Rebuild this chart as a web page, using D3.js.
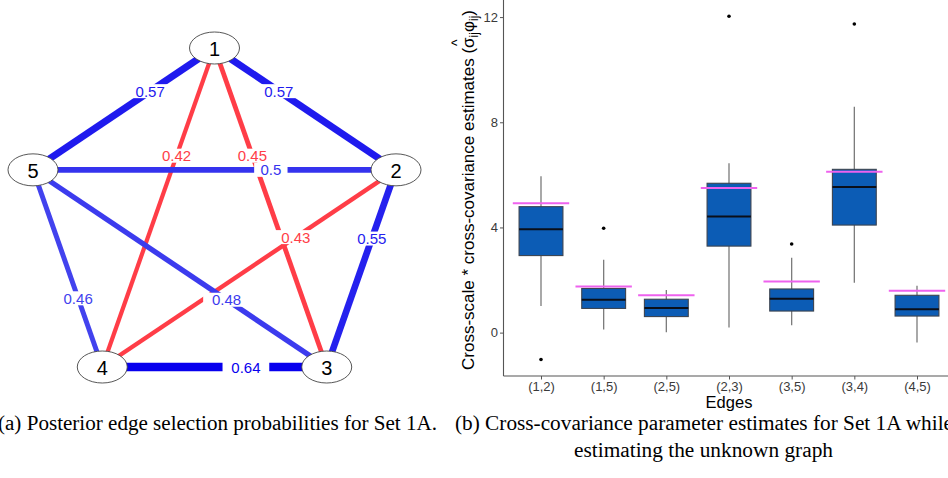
<!DOCTYPE html>
<html>
<head>
<meta charset="utf-8">
<script src="https://cdn.jsdelivr.net/npm/d3@7"></script>
<style>
  html, body { margin: 0; padding: 0; background: #fff; }
  svg { display: block; }
</style>
</head>
<body>
<svg id="fig" width="948" height="478"></svg>
<script>
// ---------- (a) posterior edge selection probabilities ----------
const nodeIds = ["1", "2", "3", "4", "5"];
// circular layout coordinates (unit circle, node 1 on top)
const nodeLayoutX = [0, 0.951, 0.588, -0.588, -0.951];
const nodeLayoutY = [1, 0.309, -0.809, -0.809, 0.309];

const edgeFrom = ["1", "1", "1", "1", "2", "2", "2", "4", "3", "3"];
const edgeTo   = ["5", "2", "4", "3", "5", "4", "3", "5", "5", "4"];
const edgeProb = [0.57, 0.57, 0.42, 0.45, 0.5, 0.43, 0.55, 0.46, 0.48, 0.64];
const edgeInTrueGraph = [true, true, false, false, true, false, true, true, true, true];

// ---------- (b) cross-covariance estimates per edge ----------
const edgeLabels  = ["(1,2)", "(1,5)", "(2,5)", "(2,3)", "(3,5)", "(3,4)", "(4,5)"];
const whiskerLow  = [1.01, 0.12, 0.01, 0.19, 0.28, 1.90, -0.38];
const quart1      = [2.93, 0.92, 0.61, 3.29, 0.82, 4.09, 0.63];
const medians     = [3.93, 1.25, 0.94, 4.42, 1.29, 5.54, 0.89];
const quart3      = [4.79, 1.68, 1.27, 5.68, 1.66, 6.21, 1.42];
const whiskerHigh = [5.95, 2.77, 1.62, 6.44, 2.85, 8.59, 1.78];
const trueValues  = [4.92, 1.75, 1.42, 5.50, 1.94, 6.12, 1.59];
const outliers    = [[-1.02], [3.97], [], [12.03], [3.37], [11.74], []];
const yTicks      = [0, 4, 8, 12];

const captionA  = "(a) Posterior edge selection probabilities for Set 1A.";
const captionB1 = "(b) Cross-covariance parameter estimates for Set 1A while";
const captionB2 = "estimating the unknown graph";

const svg = d3.select("#fig");
svg.append("rect").attr("width", 948).attr("height", 478).attr("fill", "#fff");

// =============== network panel ===============
const sans = "'Liberation Sans', Arial, sans-serif";
const gx = d3.scaleLinear().domain([-0.951, 0.951]).range([33, 396]);
const gy = d3.scaleLinear().domain([-0.809, 1]).range([367, 48]);
const rx = 25, ry = 16;

const nodes = nodeIds.map((id, i) => ({ id, x: gx(nodeLayoutX[i]), y: gy(nodeLayoutY[i]) }));
const nodeById = new Map(nodes.map(n => [n.id, n]));

const edges = edgeFrom.map((f, i) => ({
  a: nodeById.get(f), b: nodeById.get(edgeTo[i]),
  p: edgeProb[i], inTrue: edgeInTrueGraph[i]
}));

const widthScale = d3.scaleLinear().domain([0.5, 0.64]).range([5.7, 8.3]);
const blueScale = d3.scaleLinear().domain([0.46, 0.64]).range(["#4242ee", "#0800ee"]);
const redColor = "#ff3d47";
const edgeColor = e => e.inTrue ? blueScale(e.p) : redColor;

// distance from an ellipse centre to its border along a unit direction
function borderDist(ux, uy) {
  return 1 / Math.sqrt((ux / rx) ** 2 + (uy / ry) ** 2);
}

const gEdges = svg.append("g");
const drawOrder = edges.slice().sort((m, n) => m.p - n.p);
gEdges.selectAll("line").data(drawOrder).join("line")
  .attr("x1", e => e.a.x).attr("y1", e => e.a.y)
  .attr("x2", e => e.b.x).attr("y2", e => e.b.y)
  .attr("stroke", edgeColor)
  .attr("stroke-width", e => widthScale(e.p));

// edge labels with white background, placed about a third of the way from the first node
const labelPos = 0.32;
const gLabelBg = svg.append("g");
const gLabels = svg.append("g");
edges.forEach(e => {
  const dx = e.b.x - e.a.x, dy = e.b.y - e.a.y;
  const len = Math.hypot(dx, dy), ux = dx / len, uy = dy / len;
  const d0 = borderDist(ux, uy);
  const d1 = len - borderDist(ux, uy);
  const t = d0 + (d1 - d0) * labelPos;
  const cx = e.a.x + ux * t, cy = e.a.y + uy * t;
  const txt = gLabels.append("text")
    .attr("x", cx).attr("y", cy)
    .attr("text-anchor", "middle").attr("dominant-baseline", "central")
    .attr("font-family", sans).attr("font-size", 15)
    .attr("fill", edgeColor(e))
    .text(String(e.p));
  const w = txt.node().getComputedTextLength();
  gLabelBg.append("rect")
    .attr("x", cx - w * 0.8).attr("y", cy - 7)
    .attr("width", w * 1.6).attr("height", 14)
    .attr("fill", "#fff");
});

const gNodes = svg.append("g");
gNodes.selectAll("ellipse").data(nodes).join("ellipse")
  .attr("cx", d => d.x).attr("cy", d => d.y)
  .attr("rx", rx).attr("ry", ry)
  .attr("fill", "#fff").attr("stroke", "#444").attr("stroke-width", 0.9);
gNodes.selectAll("text").data(nodes).join("text")
  .attr("x", d => d.x).attr("y", d => d.y + 1)
  .attr("text-anchor", "middle").attr("dominant-baseline", "central")
  .attr("font-family", sans).attr("font-size", 20).attr("fill", "#000")
  .text(d => d.id);

// =============== box plot panel ===============
const left = 503.5, bottom = 376, right = 954;
const y = d3.scaleLinear().domain([-1.65, 12.65]).range([bottom, 0]);
const x = d3.scalePoint().domain(edgeLabels).range([541, 917]);
const step = x.step();
const boxW = step * 0.7, refW = step * 0.9;

const stats = edgeLabels.map((k, i) => ({
  k, lo: whiskerLow[i], q1: quart1[i], med: medians[i], q3: quart3[i],
  hi: whiskerHigh[i], truth: trueValues[i], out: outliers[i]
}));

const gb = svg.append("g");
// whiskers
gb.selectAll("line.wh").data(stats).join("line").attr("class", "wh")
  .attr("x1", d => x(d.k)).attr("x2", d => x(d.k))
  .attr("y1", d => y(d.hi)).attr("y2", d => y(d.lo))
  .attr("stroke", "#7a7a7a").attr("stroke-width", 1.3);
// boxes
gb.selectAll("rect.box").data(stats).join("rect").attr("class", "box")
  .attr("x", d => x(d.k) - boxW / 2).attr("width", boxW)
  .attr("y", d => y(d.q3)).attr("height", d => y(d.q1) - y(d.q3))
  .attr("fill", "#0c5cb5").attr("stroke", "#3c4450").attr("stroke-width", 1.1);
// medians
gb.selectAll("line.med").data(stats).join("line").attr("class", "med")
  .attr("x1", d => x(d.k) - boxW / 2).attr("x2", d => x(d.k) + boxW / 2)
  .attr("y1", d => y(d.med)).attr("y2", d => y(d.med))
  .attr("stroke", "#0a0f1a").attr("stroke-width", 2);
// outliers
gb.selectAll("g.out").data(stats).join("g").attr("class", "out")
  .selectAll("circle").data(d => d.out.map(v => ({ k: d.k, v }))).join("circle")
  .attr("cx", d => x(d.k)).attr("cy", d => y(d.v)).attr("r", 1.8).attr("fill", "#000");
// true parameter values
gb.selectAll("line.truth").data(stats).join("line").attr("class", "truth")
  .attr("x1", d => x(d.k) - refW / 2).attr("x2", d => x(d.k) + refW / 2)
  .attr("y1", d => y(d.truth)).attr("y2", d => y(d.truth))
  .attr("stroke", "#ee62ee").attr("stroke-width", 2);

// axes
const yAxis = svg.append("g").attr("transform", `translate(${left},0)`)
  .call(d3.axisLeft(y).tickValues(yTicks).tickSize(3.5).tickPadding(2).tickFormat(d3.format("d")));
const xAxis = svg.append("g").attr("transform", `translate(0,${bottom})`)
  .call(d3.axisBottom(x).tickSize(3.5).tickPadding(2));
[yAxis, xAxis].forEach(a => {
  a.select(".domain").remove();
  a.selectAll(".tick line").attr("stroke", "#555");
  a.selectAll(".tick text").attr("fill", "#3a3a3a").attr("font-family", sans).attr("font-size", 13);
});
svg.append("line").attr("x1", left).attr("x2", left).attr("y1", 0).attr("y2", bottom)
  .attr("stroke", "#555").attr("stroke-width", 1.1);
svg.append("line").attr("x1", left).attr("x2", right).attr("y1", bottom).attr("y2", bottom)
  .attr("stroke", "#555").attr("stroke-width", 1.1);

svg.append("text").attr("x", 729).attr("y", 408)
  .attr("text-anchor", "middle").attr("font-family", sans).attr("font-size", 16.5)
  .attr("fill", "#000").text("Edges");

// y-axis title with a hatted sigma
const yTitle = svg.append("text")
  .attr("transform", `translate(474,190) rotate(-90)`)
  .attr("text-anchor", "middle").attr("font-family", sans).attr("font-size", 17).attr("fill", "#000");
yTitle.append("tspan").text("Cross-scale * cross-covariance estimates (");
yTitle.append("tspan").attr("class", "sig").text("σ");
yTitle.append("tspan").attr("class", "hat").attr("font-size", 14).text("^");
yTitle.append("tspan").attr("class", "sub1").attr("font-size", 12).text("ij");
yTitle.append("tspan").attr("class", "phi").attr("dy", -4).text("φ");
yTitle.append("tspan").attr("font-size", 12).attr("dy", 4).text("ij");
yTitle.append("tspan").attr("dy", -4).text(")");
// centre the caret over sigma
const sigW = yTitle.select(".sig").node().getComputedTextLength();
const hatW = yTitle.select(".hat").node().getComputedTextLength();
yTitle.select(".hat").attr("dx", -(sigW + hatW) / 2).attr("dy", -12);
yTitle.select(".sub1").attr("dx", (sigW - hatW) / 2).attr("dy", 16);

// =============== captions ===============
const serif = "'Liberation Serif', 'Times New Roman', serif";
svg.append("text").attr("x", -2).attr("y", 430).attr("font-family", serif).attr("font-size", 20.5)
  .attr("textLength", 439).attr("lengthAdjust", "spacingAndGlyphs").attr("fill", "#000").text(captionA);
svg.append("text").attr("x", 455).attr("y", 430).attr("font-family", serif).attr("font-size", 20.5)
  .attr("textLength", 498).attr("lengthAdjust", "spacingAndGlyphs").attr("fill", "#000").text(captionB1);
svg.append("text").attr("x", 574).attr("y", 457).attr("font-family", serif).attr("font-size", 20.5)
  .attr("textLength", 259).attr("lengthAdjust", "spacingAndGlyphs").attr("fill", "#000").text(captionB2);
</script>
</body>
</html>
